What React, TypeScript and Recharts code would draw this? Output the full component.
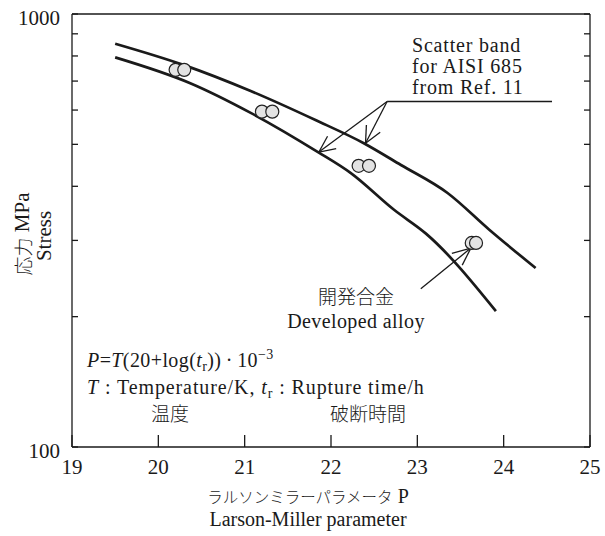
import { ComposedChart, Line, Scatter, XAxis, YAxis, ReferenceLine, Customized } from "recharts";

const SERIF = "'Liberation Serif', 'DejaVu Serif', serif";
const JP = "'Noto Sans CJK JP', sans-serif";
const INK = "#1a1a1a";

const xTicks = [19, 20, 21, 22, 23, 24, 25];
const yTicks = [100, 200, 300, 400, 500, 600, 700, 800, 900, 1000];
const yLabelled = [100, 1000];

// scatter band for AISI 685 (upper / lower bounds)
const upperBand = [
  { p: 19.5, s: 854 },
  { p: 20.29, s: 763 },
  { p: 21.07, s: 664 },
  { p: 21.82, s: 569 },
  { p: 22.38, s: 503 },
  { p: 22.81, s: 448 },
  { p: 23.35, s: 386 },
  { p: 23.83, s: 318 },
  { p: 24.37, s: 259 },
];
const lowerBand = [
  { p: 19.5, s: 794 },
  { p: 20.37, s: 692 },
  { p: 21.07, s: 591 },
  { p: 21.84, s: 481 },
  { p: 22.23, s: 429 },
  { p: 22.73, s: 353 },
  { p: 23.1, s: 311 },
  { p: 23.91, s: 206 },
];

// developed alloy test results
const alloyPoints = [
  { p: 20.2, s: 743 },
  { p: 20.3, s: 743 },
  { p: 21.2, s: 595 },
  { p: 21.32, s: 595 },
  { p: 22.32, s: 446 },
  { p: 22.44, s: 446 },
  { p: 23.63, s: 296 },
  { p: 23.68, s: 296 },
];

// leader lines (data coords)
const bandLeader = [{ p: 22.65, s: 628 }, { p: 24.56, s: 628 }];
const bandTips = [{ p: 21.86, s: 480 }, { p: 22.4, s: 503 }];
const bandWings = [
  [{ p: 21.96, s: 522 }, { p: 22.06, s: 489 }],
  [{ p: 22.41, s: 554 }, { p: 22.57, s: 533 }],
];
const alloyTail = { p: 23.04, s: 232 };
const alloyTip = { p: 23.62, s: 288 };
const alloyWings = [{ p: 23.4, s: 280 }, { p: 23.52, s: 263 }];

const bandNote = ["Scatter band", "for AISI 685", "from Ref. 11"];

type Pt = { p: number; s: number };
const seg = (a: Pt, b: Pt) => [{ x: a.p, y: a.s }, { x: b.p, y: b.s }];

const segments = [
  seg(bandLeader[0], bandLeader[1]),
  ...bandTips.map((t) => seg(bandLeader[0], t)),
  ...bandWings.flatMap((w, i) => w.map((e) => seg(bandTips[i], e))),
  seg(alloyTail, alloyTip),
  ...alloyWings.map((e) => seg(alloyTip, e)),
];

const serif = { fontFamily: SERIF, fontSize: 21 };
const jp = { fontFamily: JP, fontSize: 19, fontWeight: 300 };

const BottomTick = (props: any) => {
  const { x, y, payload } = props;
  return (
    <g>
      <line x1={x} x2={x} y1={y} y2={y - 12} stroke={INK} strokeWidth={1.3} />
      <text x={x} y={y + 27} textAnchor="middle" fill={INK} style={serif}>
        {payload.value}
      </text>
    </g>
  );
};

const TopTick = (props: any) => {
  const { x, y } = props;
  return <line x1={x} x2={x} y1={y} y2={y + 12} stroke={INK} strokeWidth={1.3} />;
};

const LeftTick = (props: any) => {
  const { x, y, payload } = props;
  return (
    <g>
      <line x1={x} x2={x + 6} y1={y} y2={y} stroke={INK} strokeWidth={1.3} />
      {yLabelled.includes(payload.value) && (
        <text x={x - 12} y={y + 11} textAnchor="end" fill={INK} style={serif}>
          {payload.value}
        </text>
      )}
    </g>
  );
};

const RightTick = (props: any) => {
  const { x, y } = props;
  return <line x1={x} x2={x - 6} y1={y} y2={y} stroke={INK} strokeWidth={1.3} />;
};

const Bubble = (props: any) => (
  <circle cx={props.cx} cy={props.cy} r={6.5} fill="#e3e3e3" stroke="#222" strokeWidth={1.2} />
);

function Texts() {
  const sub = { fontSize: 14 };
  const wide = { ...serif, fontSize: 20, letterSpacing: 0.9 };
  return (
    <g fill={INK}>
      {bandNote.map((t, i) => (
        <text key={t} x={412} y={52 + i * 21} style={{ ...serif, fontSize: 20, letterSpacing: 0.8 }}>
          {t}
        </text>
      ))}
      <text x={356} y={304} textAnchor="middle" style={jp}>
        開発合金
      </text>
      <text x={356} y={328} textAnchor="middle" style={{ ...serif, fontSize: 20, letterSpacing: 0.4 }}>
        Developed alloy
      </text>

      <text x={87} y={367} style={{ ...serif, fontSize: 20, letterSpacing: 0.4 }}>
        <tspan fontStyle="italic">P</tspan>
        <tspan>=</tspan>
        <tspan fontStyle="italic">T</tspan>
        <tspan>{"(20+log("}</tspan>
        <tspan fontStyle="italic">t</tspan>
        <tspan {...sub} dy={4}>r</tspan>
        <tspan dy={-4}>{"))\u2009·\u200910"}</tspan>
        <tspan {...sub} dy={-8}>−3</tspan>
      </text>
      <text x={87} y={394} style={wide}>
        <tspan fontStyle="italic">T</tspan>
        <tspan>{" : Temperature/K, "}</tspan>
        <tspan fontStyle="italic">t</tspan>
        <tspan {...sub} dy={4}>r</tspan>
        <tspan dy={-4}>{" : Rupture time/h"}</tspan>
      </text>
      <text x={151} y={421} style={jp}>
        温度
      </text>
      <text x={330} y={421} style={jp}>
        破断時間
      </text>

      <text x={308} y={503} textAnchor="middle" style={{ ...serif, fontSize: 20 }}>
        <tspan style={{ ...jp, fontSize: 15.5 }}>ラルソンミラーパラメータ</tspan>
        <tspan>{" P"}</tspan>
      </text>
      <text x={308} y={526} textAnchor="middle" style={{ ...serif, fontSize: 20 }}>
        Larson-Miller parameter
      </text>

      <text x={22} y={234} transform="rotate(-90 22 234)" textAnchor="middle" dominantBaseline="central" style={serif}>
        <tspan style={jp}>応力</tspan>
        <tspan>{" MPa"}</tspan>
      </text>
      <text x={44} y={236} transform="rotate(-90 44 236)" textAnchor="middle" dominantBaseline="central" style={serif}>
        Stress
      </text>
    </g>
  );
}

export default function App() {
  const axisLine = { stroke: INK, strokeWidth: 1.3 };
  return (
    <div style={{ position: "absolute", left: 0, top: 0, width: 605, height: 536, background: "#fff" }}>
      <ComposedChart width={605} height={536} margin={{ top: 13, right: 14, bottom: 59, left: 0 }}>
        <XAxis
          dataKey="p"
          type="number"
          domain={[19, 25]}
          ticks={xTicks}
          interval={0}
          tickSize={0}
          tickMargin={0}
          tickLine={false}
          axisLine={axisLine}
          tick={<BottomTick />}
          height={30}
        />
        <XAxis
          xAxisId="top"
          orientation="top"
          dataKey="p"
          type="number"
          domain={[19, 25]}
          ticks={xTicks.slice(1, -1)}
          interval={0}
          tickSize={0}
          tickMargin={0}
          tickLine={false}
          axisLine={axisLine}
          tick={<TopTick />}
          height={1}
        />
        <YAxis
          type="number"
          scale="log"
          domain={[100, 1000]}
          allowDataOverflow
          ticks={yTicks}
          interval={0}
          tickSize={0}
          tickMargin={0}
          tickLine={false}
          axisLine={axisLine}
          tick={<LeftTick />}
          width={72}
        />
        <YAxis
          yAxisId="right"
          orientation="right"
          type="number"
          scale="log"
          domain={[100, 1000]}
          allowDataOverflow
          ticks={yTicks}
          interval={0}
          tickSize={0}
          tickMargin={0}
          tickLine={false}
          axisLine={axisLine}
          tick={<RightTick />}
          width={1}
        />
        <Line data={upperBand} dataKey="s" type="monotone" stroke={INK} strokeWidth={2.7} dot={false} isAnimationActive={false} />
        <Line data={lowerBand} dataKey="s" type="monotone" stroke={INK} strokeWidth={2.7} dot={false} isAnimationActive={false} />
        {segments.map((sg, i) => (
          <ReferenceLine key={i} segment={sg} stroke={INK} strokeWidth={1.3} ifOverflow="visible" />
        ))}
        <Scatter data={alloyPoints} dataKey="s" shape={<Bubble />} isAnimationActive={false} />
        <Customized component={<Texts />} />
      </ComposedChart>
    </div>
  );
}
